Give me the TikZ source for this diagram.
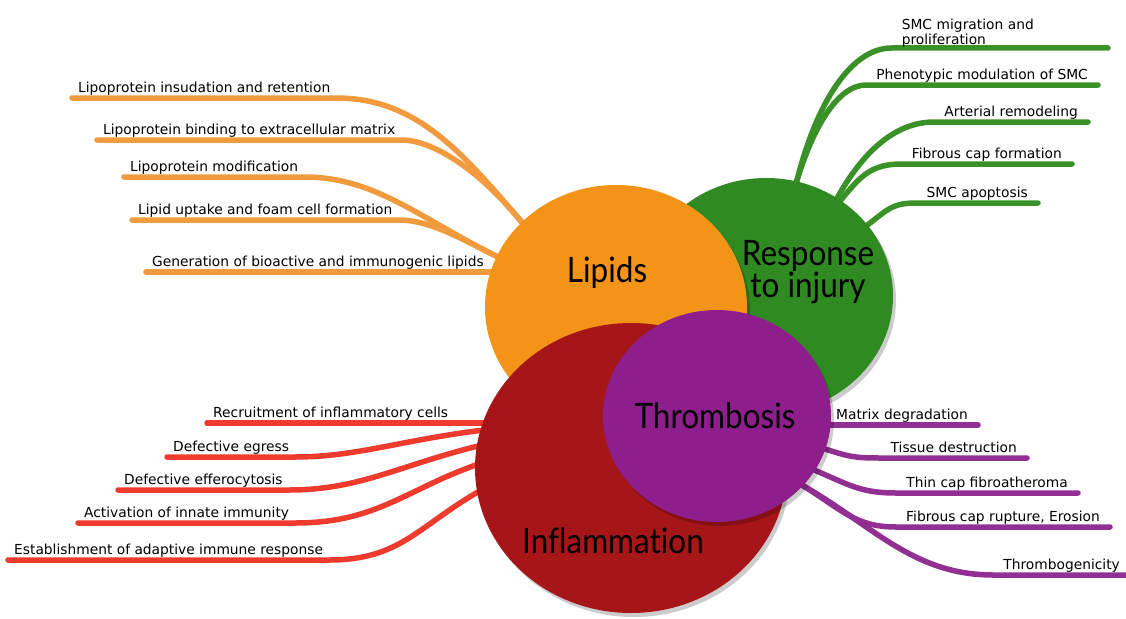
\documentclass[tikz,border=0pt]{standalone}
\usepackage{fontspec}
\setmainfont{DejaVu Sans}
\newfontfamily\headfont[FakeStretch=0.9,Ligatures=NoCommon]{Lato}
\usepackage{tikz}
\usetikzlibrary{shapes.geometric,shadows,backgrounds}
\definecolor{LipOrange}{HTML}{F39419}
\definecolor{LipLine}{HTML}{F29B3E}
\definecolor{InjGreen}{HTML}{2E8A21}
\definecolor{InjLine}{HTML}{3A9128}
\definecolor{InfRed}{HTML}{A61517}
\definecolor{InfLine}{HTML}{EE3B2E}
\definecolor{ThrPurple}{HTML}{8E1E8C}
\definecolor{ThrLine}{HTML}{922F93}

\begin{document}
\begin{tikzpicture}[x=1pt,y=-1pt,
  blob/.style={ellipse,inner sep=0pt,outer sep=0pt,drop shadow={shadow xshift=3pt,shadow yshift=-4pt,opacity=0.2,fill=black}},
  head/.style={font=\headfont\fontsize{35}{30}\selectfont,inner sep=0pt,align=center},
  leaf/.style={font=\fontsize{13.8}{15.5}\selectfont,inner xsep=6pt,inner ysep=2pt,text height=10pt,text depth=3pt},
  lleaf/.style={leaf,anchor=south west},
  rleaf/.style={leaf,inner xsep=10pt,anchor=south east},
  branch/.style={line width=5.5pt,line cap=round}]
  \useasboundingbox (0,0) rectangle (1126,618);

  % the four circles
  \node[blob,fill=InjGreen,minimum width=254pt,minimum height=236pt] (injury) at (766,296) {};
  \node[blob,fill=LipOrange,minimum width=262pt,minimum height=244pt] (lipids) at (616,307) {};
  \node[blob,fill=InfRed,minimum width=312pt,minimum height=290pt] (inflam) at (631,468) {};
  \node[blob,fill=ThrPurple,minimum width=228pt,minimum height=212pt] (thromb) at (717,416) {};

  \node[head,anchor=base] (lipidsT) at (607,282) {Lipids};
  \node[head,anchor=north] (injuryT) at (808,240) {Response\\to injury};
  \node[head,anchor=base] (thrombT) at (715,428) {Thrombosis};
  \node[head,anchor=base] (inflamT) at (613,553) {Inflammation};

  % lipids
  \node[lleaf] (lipA) at (72,98) {Lipoprotein insudation and retention};
  \node[lleaf] (lipB) at (97,140) {Lipoprotein binding to extracellular matrix};
  \node[lleaf] (lipC) at (124,177) {Lipoprotein modification};
  \node[lleaf] (lipD) at (132,220) {Lipid uptake and foam cell formation};
  \node[lleaf] (lipE) at (146,272) {Generation of bioactive and immunogenic lipids};

  % response to injury
  \node[font=\fontsize{13.8}{15.5}\selectfont,inner xsep=10pt,inner ysep=0pt,anchor=south east,text width=196pt,align=left] (injA) at (1108,48) {SMC migration and\\proliferation};
  \node[rleaf] (injB) at (1098,85) {Phenotypic modulation of SMC};
  \node[rleaf] (injC) at (1088,122) {Arterial remodeling};
  \node[rleaf] (injD) at (1072,164) {Fibrous cap formation};
  \node[rleaf] (injE) at (1038,203) {SMC apoptosis};

  % inflammation
  \node[lleaf] (infA) at (207,423) {Recruitment of inflammatory cells};
  \node[lleaf] (infB) at (167,457) {Defective egress};
  \node[lleaf] (infC) at (118,490) {Defective efferocytosis};
  \node[lleaf] (infD) at (78,523) {Activation of innate immunity};
  \node[lleaf] (infE) at (8,560) {Establishment of adaptive immune response};

  % thrombosis
  \node[rleaf] (thrA) at (978,425) {Matrix degradation};
  \node[rleaf] (thrB) at (1027,458) {Tissue destruction};
  \node[rleaf] (thrC) at (1078,493) {Thin cap fibroatheroma};
  \node[rleaf] (thrD) at (1110,527) {Fibrous cap rupture, Erosion};
  \node[rleaf] (thrE) at (1130,575) {Thrombogenicity};

  \begin{scope}[on background layer]
    \fill[white] (0,0) rectangle (1126,618);
    \draw[branch,LipLine] (lipids.138) .. controls +(-60,-70) and +(80,0) .. (lipA.south east) -- (lipA.south west);
    \draw[branch,LipLine] (lipids.138) .. controls +(-45,-55) and +(30,0) .. (lipB.south east) -- (lipB.south west);
    \draw[branch,LipLine] (lipids.157) .. controls +(-80,-40) and +(70,0) .. (lipC.south east) -- (lipC.south west);
    \draw[branch,LipLine] (lipids.157) .. controls +(-40,-20) and +(30,0) .. (lipD.south east) -- (lipD.south west);
    \draw[branch,LipLine] (lipE.south west) -- (lipE.south west -| lipids.center);

    \draw[branch,InjLine] (injury.75) .. controls +(20,-80) and +(-40,0) .. (injA.south west) -- (injA.south east);
    \draw[branch,InjLine] (injury.75) .. controls +(15,-50) and +(-30,0) .. (injB.south west) -- (injB.south east);
    \draw[branch,InjLine] (injury.54) .. controls +(25,-45) and +(-40,0) .. (injC.south west) -- (injC.south east);
    \draw[branch,InjLine] (injury.52) .. controls +(20,-25) and +(-30,0) .. (injD.south west) -- (injD.south east);
    \draw[branch,InjLine] (injury.35) .. controls +(20,-15) and +(-25,0) .. (injE.south west) -- (injE.south east);

    \draw[branch,InfLine] (infA.south west) -- (infA.south west -| inflam.center);
    \draw[branch,InfLine] (inflam.166) .. controls +(-80,10) and +(60,0) .. (infB.south east) -- (infB.south west);
    \draw[branch,InfLine] (inflam.172) .. controls +(-80,20) and +(70,0) .. (infC.south east) -- (infC.south west);
    \draw[branch,InfLine] (inflam.179) .. controls +(-70,25) and +(80,0) .. (infD.south east) -- (infD.south west);
    \draw[branch,InfLine] (inflam.189) .. controls +(-60,35) and +(70,0) .. (infE.south east) -- (infE.south west);

    \draw[branch,ThrLine] (thrA.south east) -- (thrA.south east -| thromb.center);
    \draw[branch,ThrLine] (thromb.-17) .. controls +(25,8) and +(-25,0) .. (thrB.south west) -- (thrB.south east);
    \draw[branch,ThrLine] (thromb.-29) .. controls +(35,15) and +(-35,0) .. (thrC.south west) -- (thrC.south east);
    \draw[branch,ThrLine] (thromb.-39) .. controls +(40,25) and +(-40,0) .. (thrD.south west) -- (thrD.south east);
    \draw[branch,ThrLine] (thromb.-39) .. controls +(70,40) and +(-80,0) .. (thrE.south west) -- (thrE.south east);
  \end{scope}
\end{tikzpicture}
\end{document}
